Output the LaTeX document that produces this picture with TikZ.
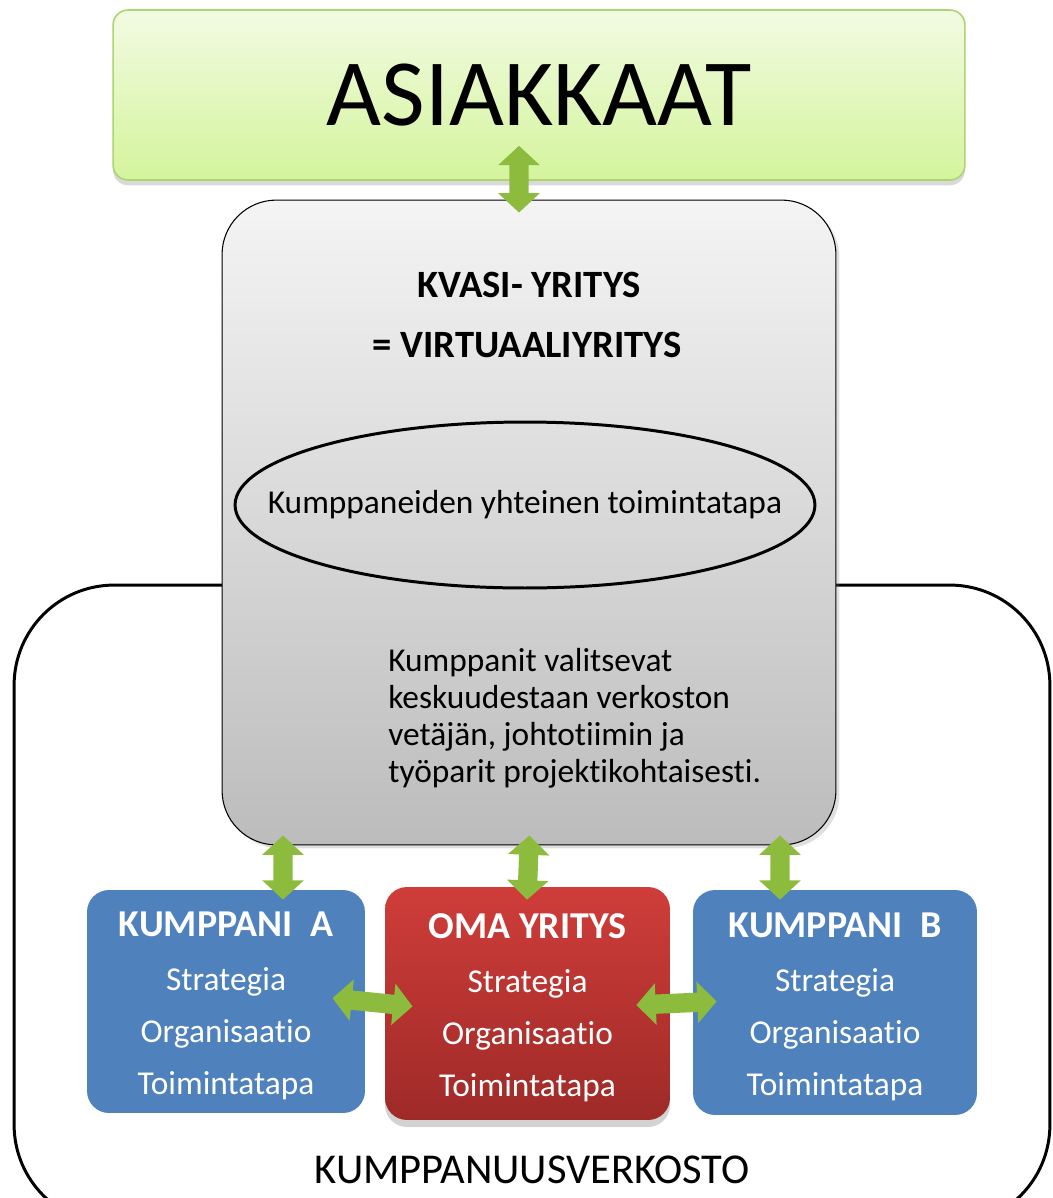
\documentclass[tikz,border=0pt]{standalone}
\usepackage{fontspec}
\setmainfont{Carlito}[Ligatures={NoCommon,NoContextual,NoRequired}]
\usetikzlibrary{arrows.meta,shapes.geometric,shadows}

\definecolor{asgreentop}{RGB}{242,251,226}
\definecolor{asgreenbot}{RGB}{212,244,156}
\definecolor{asgreenline}{RGB}{172,212,112}
\definecolor{kvtop}{RGB}{244,244,244}
\definecolor{kvbot}{RGB}{188,188,188}
\definecolor{partblue}{RGB}{79,129,189}
\definecolor{omatop}{RGB}{207,61,57}
\definecolor{omabot}{RGB}{158,42,40}
\definecolor{arrowgreen}{RGB}{141,187,62}

\begin{document}
\begin{tikzpicture}[x=0.02cm, y=-0.02cm,
    dblarrow/.style={draw=arrowgreen, line width=11pt,
        {Triangle[width=23pt,length=11pt]}-{Triangle[width=23pt,length=11pt]}},
    unit/.style={rounded corners=12.5pt, text=white, align=center,
                 font=\fontsize{19}{29.5}\selectfont},
    partner/.style={unit, fill=partblue},
    own/.style={unit, top color=omatop, bottom color=omabot,
                drop shadow={opacity=0.35, shadow xshift=0pt, shadow yshift=-4pt}},
    heading/.style={font=\fontsize{22}{26}\selectfont\bfseries},
]
\clip (0,0) rectangle (1053,1198);

% Outer network frame
\node[draw, line width=1.7pt, rounded corners=57pt, minimum width=20.72cm,
      minimum height=12.8cm] (verkosto) at (532,905) {};
\node[font=\fontsize{24.2}{28}\selectfont] (verkostolabel) at (532,1170)
    {KUMPPANUUSVERKOSTO};

% Customers
\node[draw=asgreenline, line width=0.9pt, rounded corners=8.5pt,
      top color=asgreentop, bottom color=asgreenbot,
      minimum width=17.04cm, minimum height=3.4cm,
      drop shadow={opacity=0.3, shadow xshift=0pt, shadow yshift=-3pt},
      font=\fontsize{54}{62}\selectfont] (asiakkaat) at (539,95) {ASIAKKAAT};

% Quasi company
\node[draw, line width=0.6pt, rounded corners=31pt,
      top color=kvtop, bottom color=kvbot,
      minimum width=12.28cm, minimum height=12.9cm,
      drop shadow={opacity=0.25, shadow xshift=2pt, shadow yshift=-2pt}]
    (kvasi) at (529,522.5) {};
\node[heading] (kvasititle) at (529,285) {KVASI- YRITYS};
\node[heading] (virtuaali) at (527,345) {= VIRTUAALIYRITYS};

\node[ellipse, draw, line width=1.7pt, minimum width=11.6cm,
      minimum height=3.32cm, inner xsep=-3cm, inner ysep=0pt,
      font=\fontsize{19}{23}\selectfont] (yhteinen) at (525,505)
    {Kumppaneiden yhteinen toimintatapa};

\node[anchor=west, align=left, inner sep=0pt,
      font=\fontsize{19}{21}\selectfont] (valinta) at (388,718)
    {Kumppanit valitsevat\\keskuudestaan verkoston\\vetäjän, johtotiimin ja\\työparit projektikohtaisesti.};

% Partner companies
\node[partner, minimum width=5.56cm, minimum height=4.46cm] (kumpA) at (226,1001.5)
    {\rule{0pt}{19pt}{\fontsize{21.6}{26}\selectfont\bfseries KUMPPANI\ \ A}\\[1.5pt]
     Strategia\\Organisaatio\\Toimintatapa};
\node[own, minimum width=5.7cm, minimum height=4.66cm] (oma) at (527.5,1003.5)
    {\rule{0pt}{19pt}{\fontsize{21.6}{26}\selectfont\bfseries OMA YRITYS}\\[1.5pt]
     Strategia\\Organisaatio\\Toimintatapa};
\node[partner, minimum width=5.68cm, minimum height=4.5cm] (kumpB) at (835,1002.5)
    {\rule{0pt}{19pt}{\fontsize{21.6}{26}\selectfont\bfseries KUMPPANI\ \ B}\\[1.5pt]
     Strategia\\Organisaatio\\Toimintatapa};

% Two-way links
\draw[dblarrow, shorten <=-0.7cm, shorten >=-0.26cm]
    ([xshift=-0.4cm]asiakkaat.south) -- ([xshift=-0.2cm]kvasi.north);
\draw[dblarrow, shorten <=-0.2cm, shorten >=-0.2cm]
    ([xshift=-4.92cm]kvasi.south) -- ([xshift=1.14cm]kumpA.north);
\draw[dblarrow, shorten <=-0.2cm, shorten >=-0.26cm]
    (kvasi.south) -- (oma.north);
\draw[dblarrow, shorten <=-0.2cm, shorten >=-0.2cm]
    ([xshift=5.02cm]kvasi.south) -- ([xshift=-1.1cm]kumpB.north);
\draw[dblarrow, shorten <=-0.66cm, shorten >=-0.56cm]
    (kumpA.east) -- (oma.west);
\draw[dblarrow, shorten <=-0.68cm, shorten >=-0.48cm]
    (oma.east) -- (kumpB.west);
\end{tikzpicture}
\end{document}
